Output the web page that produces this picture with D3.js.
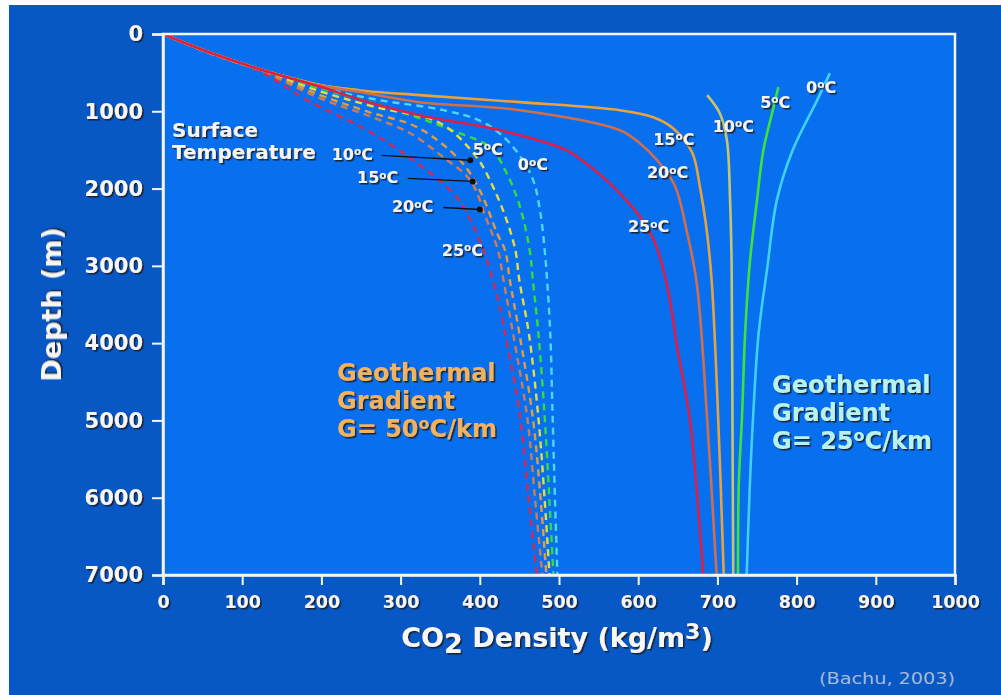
<!DOCTYPE html>
<html>
<head>
<meta charset="utf-8">
<script src="https://cdn.jsdelivr.net/npm/d3@7/dist/d3.min.js"></script>
<style>
  html, body { margin: 0; padding: 0; background: #ffffff; }
  svg { display: block; }
  text { font-family: "DejaVu Sans", Verdana, sans-serif; }
</style>
</head>
<body>
<svg id="chart" width="1001" height="695"></svg>
<script>
// Axis ticks
const xTicks = [0, 100, 200, 300, 400, 500, 600, 700, 800, 900, 1000];
const yTicks = [0, 1000, 2000, 3000, 4000, 5000, 6000, 7000];

// Surface temperatures (°C) and their colours
const surfaceTemps = [0, 5, 10, 15, 20, 25];
const solidColors  = ["#3fd0f2", "#3ee23a", "#c9c46a", "#e9a23c", "#d36e48", "#dd1f48"];
const dashedColors = ["#4fd6f6", "#35dc3c", "#e4dc42", "#e59a40", "#d07a56", "#d52a56"];

// CO2 density (kg/m3) vs depth (m), geothermal gradient 25 °C/km
const solid0Gas   = [[0, 0], [59, 240], [122, 455]];
const solid0      = [[842, 506], [826, 856], [795, 1505], [775, 2153], [763, 3022], [752, 3878], [745, 4968], [741, 5824], [737, 7000]];
const solid5Gas   = [[0, 0], [59, 240], [122, 455], [198, 660]];
const solid5      = [[777, 687], [769, 1025], [758, 1505], [750, 2153], [741, 2950], [735, 3878], [731, 4968], [727, 5824], [726, 7000]];
const solid10Gas  = [[0, 0], [59, 240], [122, 455], [198, 660], [249, 730]];
const solid10     = [[687, 791], [703, 1025], [712, 1375], [716, 2153], [718, 3022], [719, 4968], [720, 7000]];
const solid15     = [[0, 0], [59, 240], [122, 455], [198, 660], [249, 730], [324, 791], [451, 882], [577, 986], [619, 1077], [644, 1219], [668, 1530], [678, 1984], [687, 2581], [693, 3230], [701, 4968], [708, 7000]];
const solid20     = [[0, 0], [59, 240], [122, 455], [198, 665], [249, 750], [324, 882], [451, 986], [577, 1245], [602, 1414], [624, 1634], [646, 1958], [662, 2581], [674, 3230], [687, 4968], [699, 7000]];
const solid25     = [[0, 0], [59, 240], [122, 455], [198, 680], [249, 850], [324, 1051], [426, 1245], [510, 1505], [533, 1665], [556, 1855], [585, 2153], [603, 2373], [620, 2672], [636, 3230], [650, 4099], [665, 4968], [675, 6044], [682, 7000]];

// CO2 density (kg/m3) vs depth (m), geothermal gradient 50 °C/km
const dashed0  = [[0, 0], [59, 246], [122, 460], [198, 690], [270, 850], [354, 986], [404, 1141], [438, 1414], [466, 1855], [476, 2283], [482, 2802], [485, 3191], [489, 3878], [492, 4968], [495, 6044], [498, 7000]];
const dashed5  = [[0, 0], [59, 246], [122, 462], [198, 700], [260, 880], [324, 1090], [371, 1271], [413, 1466], [434, 1803], [451, 2244], [463, 2802], [467, 3191], [474, 3878], [482, 4968], [488, 6044], [493, 7000]];
const dashed10 = [[0, 0], [59, 246], [122, 465], [198, 740], [270, 950], [350, 1154], [396, 1595], [417, 1984], [434, 2412], [445, 2802], [450, 3191], [462, 3878], [474, 4968], [482, 6044], [488, 7000]];
const dashed15 = [[0, 0], [59, 246], [122, 467], [198, 790], [260, 1010], [321, 1206], [375, 1634], [400, 2023], [422, 2581], [432, 2802], [438, 3191], [450, 3878], [467, 4968], [477, 6044], [484, 7000]];
const dashed20 = [[0, 0], [59, 246], [122, 470], [198, 830], [260, 1060], [312, 1284], [354, 1595], [388, 1894], [409, 2412], [423, 2802], [430, 3191], [442, 3878], [460, 4968], [470, 6044], [479, 7000]];
const dashed25 = [[0, 0], [59, 246], [122, 480], [182, 856], [258, 1245], [316, 1634], [371, 2114], [396, 2581], [417, 3191], [432, 3878], [451, 4968], [462, 6044], [472, 7000]];

// Curve labels: [temperature, density, depth] for the text anchor
const solidLabels  = [[0, 812, 765], [5, 754, 960], [10, 694, 1271], [15, 619, 1440], [20, 611, 1868], [25, 587, 2568]];
const dashedLabels = [[0, 448, 1764], [5, 391, 1569], [10, 213, 1634], [15, 245, 1933], [20, 289, 2309], [25, 352, 2866]];
// Pointer arrows: [from density, from depth, to density, to depth]
const pointers = [[276, 1570, 388, 1634], [309, 1868, 391, 1907], [354, 2244, 400, 2270]];

const svg = d3.select("#chart");
const W = 1001, H = 695;

// Text shadow
const defs = svg.append("defs");
const shadow = defs.append("filter").attr("id", "shadow")
  .attr("x", "-10%").attr("y", "-20%").attr("width", "130%").attr("height", "160%");
shadow.append("feDropShadow").attr("dx", 1.6).attr("dy", 1.6)
  .attr("stdDeviation", 0.6).attr("flood-color", "#1a1a2a").attr("flood-opacity", 0.9);

// Backgrounds
svg.append("rect").attr("x", 9).attr("y", 5).attr("width", W - 9).attr("height", H - 5).attr("fill", "#0758c4");

const x = d3.scaleLinear().domain([0, 1000]).range([163, 955]);
const y = d3.scaleLinear().domain([0, 7000]).range([34, 575]);

svg.append("rect")
  .attr("x", x(0)).attr("y", y(0))
  .attr("width", x(1000) - x(0)).attr("height", y(7000) - y(0))
  .attr("fill", "#0870ee");

const line = d3.line()
  .x(d => x(d[0])).y(d => y(d[1]))
  .curve(d3.curveCatmullRom.alpha(0.5));

const plot = svg.append("g");

// Dashed curves (G = 50 °C/km)
const dashedSeries = [dashed0, dashed5, dashed10, dashed15, dashed20, dashed25];
dashedSeries.forEach((s, i) => {
  plot.append("path").datum(s)
    .attr("d", line).attr("fill", "none")
    .attr("stroke", dashedColors[i]).attr("stroke-width", 2.4)
    .attr("stroke-dasharray", "7,5");
});

// Solid curves (G = 25 °C/km)
const solidSeries = [[solid0Gas, solid0], [solid5Gas, solid5], [solid10Gas, solid10], [solid15], [solid20], [solid25]];
solidSeries.forEach((parts, i) => {
  parts.forEach(s => {
    plot.append("path").datum(s)
      .attr("d", line).attr("fill", "none")
      .attr("stroke", solidColors[i]).attr("stroke-width", 2.6);
  });
});

// Frame
svg.append("rect")
  .attr("x", x(0)).attr("y", y(0))
  .attr("width", x(1000) - x(0)).attr("height", y(7000) - y(0))
  .attr("fill", "none").attr("stroke", "#f4f4f4").attr("stroke-width", 2.5);

// Axes
const yAxis = svg.append("g").attr("transform", `translate(${x(0)},0)`)
  .call(d3.axisLeft(y).tickValues(yTicks).tickFormat(d3.format("d")).tickSize(11).tickPadding(9));
const xAxis = svg.append("g").attr("transform", `translate(0,${y(7000)})`)
  .call(d3.axisBottom(x).tickValues(xTicks).tickFormat(d3.format("d")).tickSize(10).tickPadding(11));

[xAxis, yAxis].forEach(a => {
  a.select(".domain").attr("stroke", "#f4f4f4").attr("stroke-width", 2.5);
  a.selectAll(".tick line").attr("stroke", "#f4f4f4").attr("stroke-width", 2);
  a.selectAll(".tick text")
    .attr("fill", "#f6f6f6").attr("font-weight", "bold")
    .attr("font-family", "'DejaVu Sans', Verdana, sans-serif")
    .attr("filter", "url(#shadow)");
});
yAxis.selectAll(".tick text").attr("font-size", 21);
xAxis.selectAll(".tick text").attr("font-size", 17.5);

// Axis titles
svg.append("text")
  .attr("transform", `translate(61,${(y(0) + y(7000)) / 2}) rotate(-90)`)
  .attr("text-anchor", "middle").attr("fill", "#f6f6f6")
  .attr("font-size", 27).attr("font-weight", "bold").attr("filter", "url(#shadow)")
  .text("Depth (m)");

const xTitle = svg.append("text")
  .attr("x", (x(0) + x(1000)) / 2 - 2).attr("y", 647)
  .attr("text-anchor", "middle").attr("fill", "#f6f6f6")
  .attr("font-size", 27).attr("font-weight", "bold").attr("filter", "url(#shadow)");
xTitle.append("tspan").text("CO");
xTitle.append("tspan").attr("dy", 6).text("2");
xTitle.append("tspan").attr("dy", -6).text(" Density (kg/m");
xTitle.append("tspan").attr("dy", -8).attr("font-size", 22).text("3");
xTitle.append("tspan").attr("dy", 8).text(")");

// Temperature label with a raised small "o"
function tempLabel(g, t, px, py, size, fill) {
  const tx = g.append("text").attr("x", px).attr("y", py)
    .attr("fill", fill || "#f4f4f4").attr("font-size", size)
    .attr("font-weight", "bold").attr("filter", "url(#shadow)");
  tx.append("tspan").text(t);
  tx.append("tspan").attr("font-size", size * 0.66).attr("dy", -size * 0.3).text("o");
  tx.append("tspan").attr("dy", size * 0.3).text("C");
  return tx;
}

const ann = svg.append("g");

// Pointer arrows
pointers.forEach(p => {
  ann.append("line")
    .attr("x1", x(p[0])).attr("y1", y(p[1]))
    .attr("x2", x(p[2])).attr("y2", y(p[3]))
    .attr("stroke", "#101010").attr("stroke-width", 1.4);
  ann.append("circle").attr("cx", x(p[2])).attr("cy", y(p[3])).attr("r", 3).attr("fill", "#101010");
});

dashedLabels.forEach(d => tempLabel(ann, d[0], x(d[1]), y(d[2]), 16));
solidLabels.forEach(d => tempLabel(ann, d[0], x(d[1]), y(d[2]), 16));

// "Surface Temperature"
ann.append("text").attr("x", 172).attr("y", 137)
  .attr("fill", "#f4f4f4").attr("font-size", 20).attr("font-weight", "bold")
  .attr("filter", "url(#shadow)").text("Surface");
ann.append("text").attr("x", 172).attr("y", 159)
  .attr("fill", "#f4f4f4").attr("font-size", 20).attr("font-weight", "bold")
  .attr("filter", "url(#shadow)").text("Temperature");

// Geothermal gradient captions
function gradientCaption(px, py, value, fill) {
  const lines = ["Geothermal", "Gradient"];
  lines.forEach((s, i) => {
    ann.append("text").attr("x", px).attr("y", py + i * 28)
      .attr("fill", fill).attr("font-size", 24).attr("font-weight", "bold")
      .attr("filter", "url(#shadow)").text(s);
  });
  const t = ann.append("text").attr("x", px).attr("y", py + 56)
    .attr("fill", fill).attr("font-size", 24).attr("font-weight", "bold")
    .attr("filter", "url(#shadow)");
  t.append("tspan").text("G= " + value);
  t.append("tspan").attr("font-size", 16).attr("dy", -8).text("o");
  t.append("tspan").attr("dy", 8).text("C/km");
}
gradientCaption(337, 381, 50, "#f2b25e");
gradientCaption(772, 393, 25, "#b8f2ee");

// Source
svg.append("text").attr("x", 955).attr("y", 684)
  .attr("text-anchor", "end").attr("fill", "#a9b9d8").attr("font-size", 16)
  .attr("textLength", 136).attr("lengthAdjust", "spacingAndGlyphs")
  .text("(Bachu, 2003)");
</script>
</body>
</html>
